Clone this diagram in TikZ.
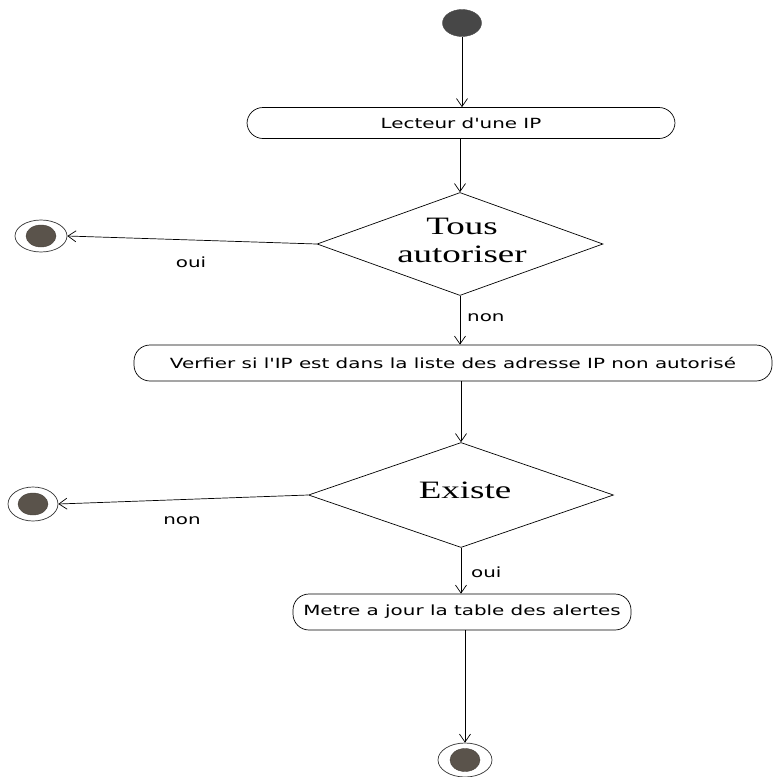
\documentclass[tikz,border=0pt]{standalone}
\usepackage{fontspec}
\usepackage{graphicx}
\usetikzlibrary{shapes.geometric,arrows.meta}
\newfontfamily\actfont{DejaVu Sans}
\newfontfamily\decfont{Liberation Serif}
\definecolor{startgray}{HTML}{474747}
\definecolor{endfill}{HTML}{5A534B}
\newcommand{\hs}[1]{\scalebox{1.42}[1]{#1}}
\newcommand{\hd}[1]{\scalebox{1.48}[1]{#1}}
\begin{document}
\begin{tikzpicture}[x=1pt,y=-1pt,
  act/.style={draw, rectangle, rounded corners=16pt, line width=0.7pt, inner sep=0pt,
    font=\actfont\fontsize{14}{16}\selectfont},
  dec/.style={draw, diamond, line width=0.7pt, inner sep=0pt},
  dectext/.style={font=\decfont\fontsize{25}{28}\selectfont, align=center, inner sep=0pt},
  lbl/.style={font=\actfont\fontsize{14}{16}\selectfont, inner sep=0pt},
  startst/.style={ellipse, fill=startgray, draw=startgray, inner sep=0pt,
    minimum width=39pt, minimum height=27pt},
  endouter/.style={ellipse, draw=black!80, line width=0.7pt, inner sep=0pt, fill=white},
  endinner/.style={ellipse, fill=endfill, draw=endfill!80!black, inner sep=0pt,
    minimum width=30pt, minimum height=22pt},
  flow/.style={-{Straight Barb[length=8pt,width=11pt]}, line width=0.7pt}
]
\useasboundingbox (0,0) rectangle (773,777);

% start
\node[startst] (start) at (462,23) {};

% activity 1
\node[act, minimum width=428pt, minimum height=31pt] (a1) at (461,123) {\hs{Lecteur d'une IP}};

% decision 1
\node[dec, minimum width=286pt, minimum height=103pt] (d1) at (460,244) {};
\node[dectext] (d1t) at (462,240) {\hd{Tous}\\\hd{autoriser}};

% end 1
\node[endouter, minimum width=52pt, minimum height=32pt] (e1) at (41,236) {};
\node[endinner] (e1in) at (41,236) {};

% activity 2
\node[act, minimum width=638pt, minimum height=36pt] (a2) at (453,363) {\hs{Verfier si l'IP est dans la liste des adresse IP non autorisé}};

% decision 2
\node[dec, minimum width=305pt, minimum height=105pt] (d2) at (461,495) {};
\node[dectext, anchor=base] (d2t) at (465,498) {\hd{Existe}};

% end 2
\node[endouter, minimum width=50pt, minimum height=34pt] (e2) at (33,504) {};
\node[endinner] (e2in) at (33,504) {};

% activity 3
\node[act, minimum width=338pt, minimum height=36pt] (a3) at (462,612) {\hs{Metre a jour la table des alertes}};

% final
\node[endouter, minimum width=54pt, minimum height=34pt] (fin) at (465,760) {};
\node[endinner, minimum height=23pt] (finin) at (465,760) {};

% labels
\node[lbl] (l1) at (191,262) {\hs{oui}};
\node[lbl, anchor=west] (l2) at (467,318) {\hs{non}};
\node[lbl] (l3) at (182,521) {\hs{non}};
\node[lbl, anchor=west] (l4) at (471,572) {\hs{oui}};

% connectors
\draw[flow] (start) -- (start |- a1.north);
\draw[flow] (d1.north |- a1.south) -- (d1.north);
\draw[flow] (d1.west) -- (e1.east);
\draw[flow] (d1.south) -- (d1.south |- a2.north);
\draw[flow] (d2.north |- a2.south) -- (d2.north);
\draw[flow] (d2.west) -- (e2.east);
\draw[flow] (d2.south) -- (d2.south |- a3.north);
\draw[flow] (fin.north |- a3.south) -- (fin.north);
\end{tikzpicture}
\end{document}
